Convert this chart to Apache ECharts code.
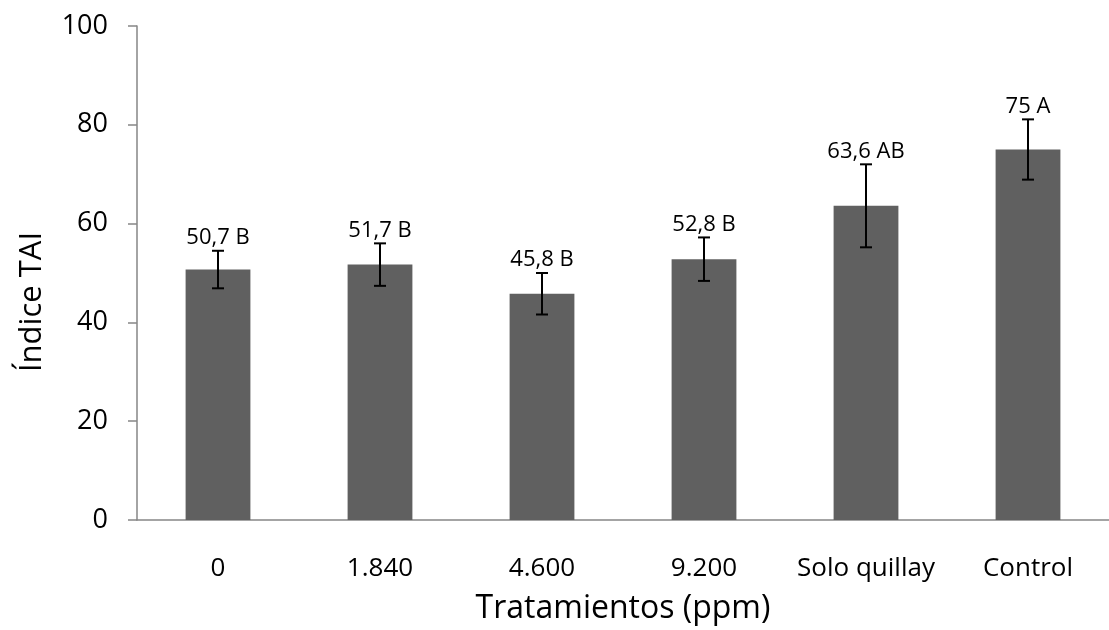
<!DOCTYPE html>
<html><head><meta charset="utf-8">
<script src="https://cdn.jsdelivr.net/npm/echarts@6/dist/echarts.min.js"></script>
<style>html,body{margin:0;padding:0;background:#fff}#c{width:1109px;height:630px}</style>
</head><body><div id="c"></div>
<script>
const categories = ['0', '1.840', '4.600', '9.200', 'Solo quillay', 'Control'];
const values = [50.7, 51.7, 45.8, 52.8, 63.6, 75.0];
const errors = [3.8, 4.3, 4.2, 4.4, 8.4, 6.1];
const labels = ['50,7 B', '51,7 B', '45,8 B', '52,8 B', '63,6 AB', '75 A'];
const yTicks = [0, 20, 40, 60, 80, 100];

const FONT = "'Open Sans', 'Noto Sans', sans-serif";
const chart = echarts.init(document.getElementById('c'), null, {renderer: 'canvas'});
const errData = values.map((v, i) => [i, v - errors[i], v + errors[i]]);

chart.setOption({
  animation: false,
  grid: {left: 137, right: -12, top: 26, bottom: 110, containLabel: false},
  xAxis: {
    type: 'category', data: categories,
    axisLine: {lineStyle: {color: '#868686', width: 1.5}},
    axisTick: {show: false},
    axisLabel: {color: '#000', fontSize: 26, fontFamily: FONT, margin: 36, interval: 0, hideOverlap: false},
    name: 'Tratamientos (ppm)', nameLocation: 'middle', nameGap: 73,
    nameTextStyle: {color: '#000', fontSize: 32, fontFamily: FONT}
  },
  yAxis: {
    type: 'value', min: 0, max: 100, interval: 20,
    axisLine: {show: true, lineStyle: {color: '#868686', width: 1.5}},
    axisTick: {show: true, inside: false, length: 9, lineStyle: {color: '#868686', width: 1.5}},
    axisLabel: {color: '#000', fontSize: 27, fontFamily: FONT, margin: 29,
      formatter: v => yTicks.includes(v) ? String(v) : ''},
    splitLine: {show: false}
  },
  graphic: [{
    type: 'text', rotation: Math.PI / 2, x: 32, y: 302,
    style: {text: 'Índice TAI', fontSize: 31, fontFamily: FONT, fill: '#000', align: 'center', verticalAlign: 'middle'}
  }],
  series: [{
    type: 'bar', data: values, barWidth: '40%',
    itemStyle: {color: '#606060'}
  }, {
    type: 'custom', data: errData, z: 5,
    renderItem: function (params, api) {
      const i = api.value(0);
      const lo = api.coord([i, api.value(1)]);
      const hi = api.coord([i, api.value(2)]);
      const cap = 6;
      const st = {stroke: '#000', lineWidth: 2};
      return {
        type: 'group',
        children: [
          {type: 'line', shape: {x1: hi[0], y1: hi[1], x2: lo[0], y2: lo[1]}, style: st},
          {type: 'line', shape: {x1: hi[0] - cap, y1: hi[1], x2: hi[0] + cap, y2: hi[1]}, style: st},
          {type: 'line', shape: {x1: lo[0] - cap, y1: lo[1], x2: lo[0] + cap, y2: lo[1]}, style: st},
          {type: 'text', x: hi[0], y: hi[1] - 2,
           style: {text: labels[i], fontSize: 22, fontFamily: FONT, fill: '#000', align: 'center', verticalAlign: 'bottom'}}
        ]
      };
    }
  }]
});
</script></body></html>
